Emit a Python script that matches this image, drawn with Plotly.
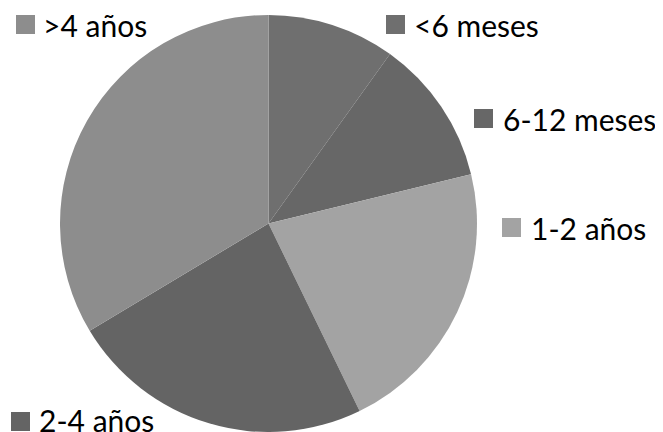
import plotly.graph_objects as go

labels = ["<6 meses", "6-12 meses", "1-2 años", "2-4 años", ">4 años"]
values = [9.9, 11.3, 21.6, 23.6, 33.6]
colors = ["#6f6f6f", "#676767", "#a3a3a3", "#646464", "#8d8d8d"]

# page body has an 8px margin; figure is placed at (8, 8)
OFF = 8
W, H = 663 - OFF, 432 - OFF


def px(x):
    return (x - OFF) / W


def py(y):
    return 1 - (y - OFF) / H


fig = go.Figure()
fig.add_trace(go.Pie(
    labels=labels, values=values, sort=False, direction="clockwise", rotation=0,
    marker=dict(colors=colors, line=dict(width=0)),
    textinfo="none", hoverinfo="label+percent", showlegend=False,
    domain=dict(x=[px(58.5), px(478.5)], y=[max(0, py(435)), py(15)]),
))

# label positions (page pixels: square left, square top, text left, center y)
label_pos = {
    ">4 años": (16, 15, 41, 25),
    "<6 meses": (386, 15, 412, 25),
    "6-12 meses": (474, 109, 501, 119),
    "1-2 años": (502, 218, 529, 228),
    "2-4 años": (11, 412, 37, 420),
}
sq = 19
for lab, col in zip(labels, colors):
    sx, sy, tx, cy = label_pos[lab]
    fig.add_shape(type="rect", xref="paper", yref="paper",
                  x0=px(sx), x1=px(sx + sq), y0=py(sy + sq), y1=py(sy),
                  fillcolor=col, line=dict(width=0))
    fig.add_annotation(text=lab, xref="paper", yref="paper", x=px(tx), y=py(cy),
                       xanchor="left", yanchor="middle", showarrow=False,
                       font=dict(family="Lato", size=30, color="#000000"))

fig.update_layout(width=W, height=H, margin=dict(l=0, r=0, t=0, b=0),
                  paper_bgcolor="white", plot_bgcolor="white")
fig.write_html("out.html")
